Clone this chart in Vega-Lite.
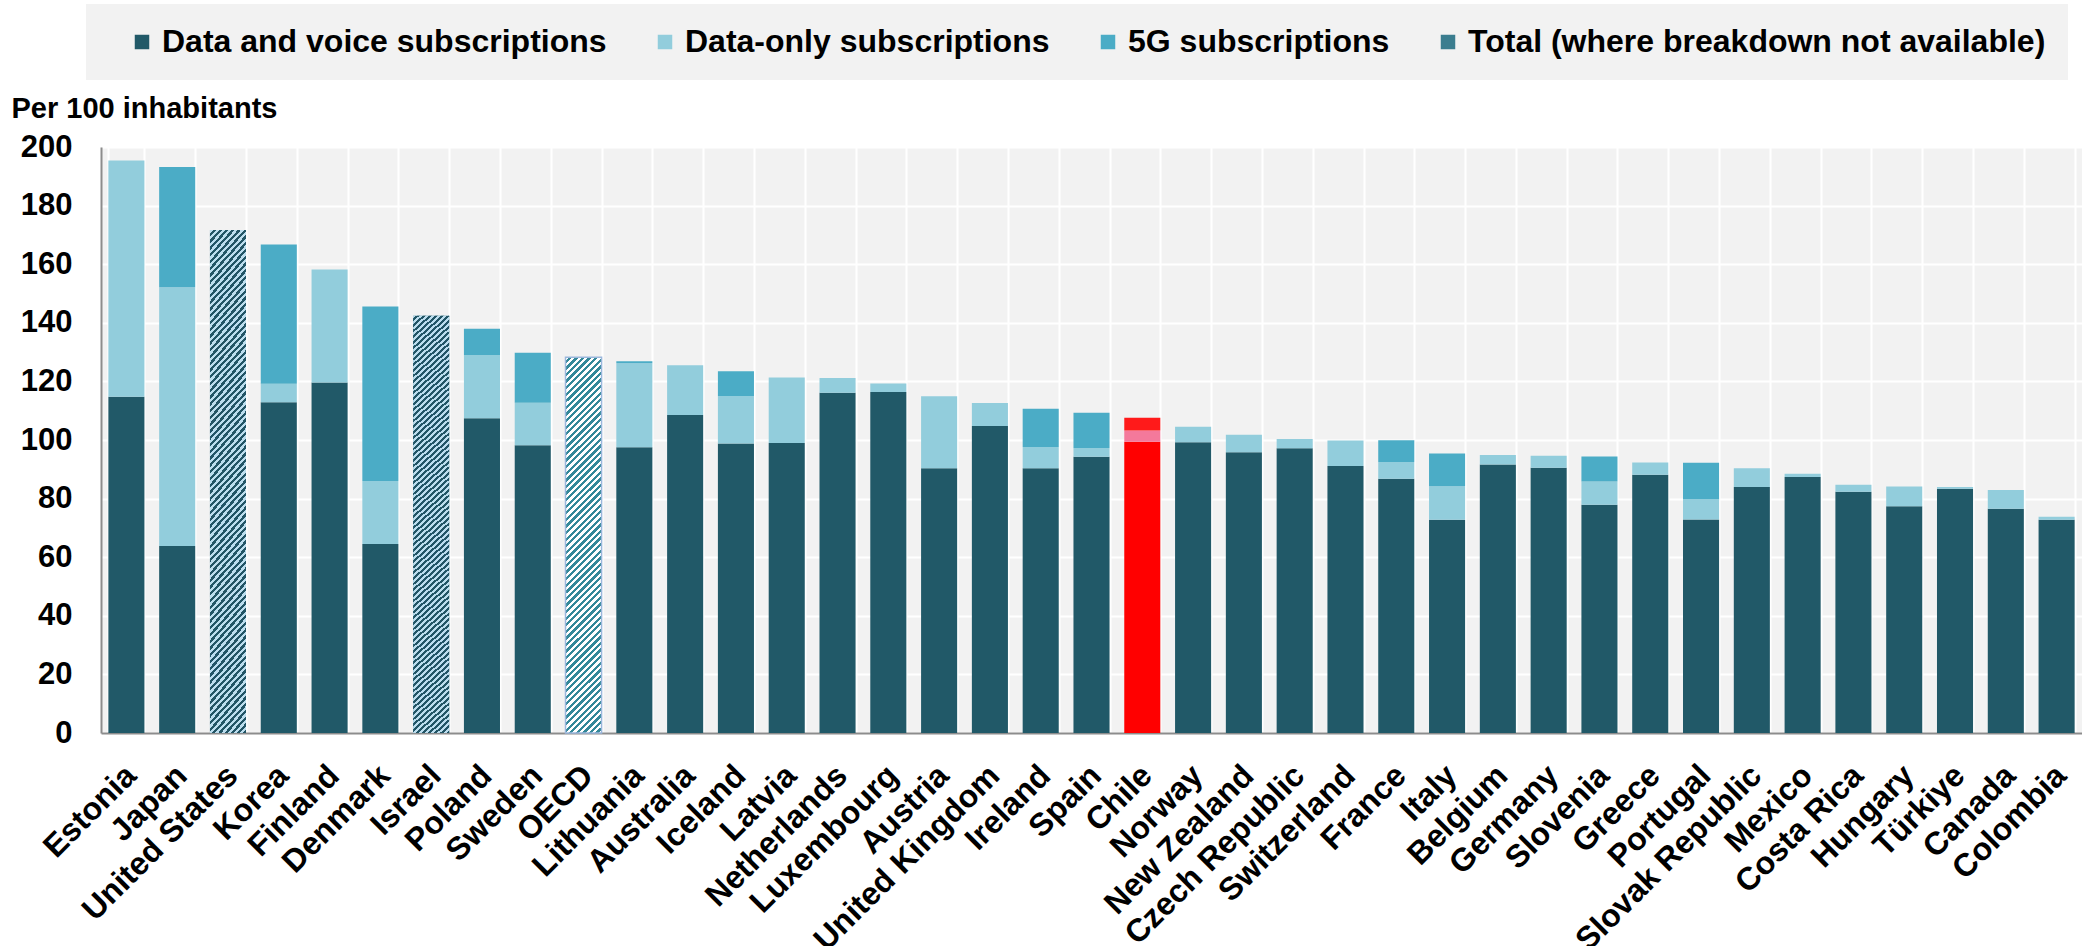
{
"$schema": "https://vega.github.io/schema/vega-lite/v6.json",
"width": 1981,
"height": 586,
"autosize": {"type": "none"},
"padding": {"left": 101, "top": 147, "right": 0, "bottom": 213},
"background": "#ffffff",
"config": {
  "view": {"fill": "#f2f2f2", "stroke": null},
  "font": "Liberation Sans"
},
"data": {"values": [
{"country":"Estonia","series":"Data and voice subscriptions","value":114.8},
{"country":"Estonia","series":"Data-only subscriptions","value":80.6},
{"country":"Japan","series":"Data and voice subscriptions","value":63.8},
{"country":"Japan","series":"Data-only subscriptions","value":88.3},
{"country":"Japan","series":"5G subscriptions","value":41.1},
{"country":"United States","series":"Total (where breakdown not available)","value":171.7},
{"country":"Korea","series":"Data and voice subscriptions","value":112.9},
{"country":"Korea","series":"Data-only subscriptions","value":6.3},
{"country":"Korea","series":"5G subscriptions","value":47.5},
{"country":"Finland","series":"Data and voice subscriptions","value":119.6},
{"country":"Finland","series":"Data-only subscriptions","value":38.6},
{"country":"Denmark","series":"Data and voice subscriptions","value":64.5},
{"country":"Denmark","series":"Data-only subscriptions","value":21.5},
{"country":"Denmark","series":"5G subscriptions","value":59.6},
{"country":"Israel","series":"Total (where breakdown not available)","value":142.4},
{"country":"Poland","series":"Data and voice subscriptions","value":107.4},
{"country":"Poland","series":"Data-only subscriptions","value":21.6},
{"country":"Poland","series":"5G subscriptions","value":9.0},
{"country":"Sweden","series":"Data and voice subscriptions","value":98.2},
{"country":"Sweden","series":"Data-only subscriptions","value":14.5},
{"country":"Sweden","series":"5G subscriptions","value":17.1},
{"country":"OECD","series":"Total (where breakdown not available)","value":128.2},
{"country":"Lithuania","series":"Data and voice subscriptions","value":97.5},
{"country":"Lithuania","series":"Data-only subscriptions","value":28.7},
{"country":"Lithuania","series":"5G subscriptions","value":0.7},
{"country":"Australia","series":"Data and voice subscriptions","value":108.5},
{"country":"Australia","series":"Data-only subscriptions","value":17.0},
{"country":"Iceland","series":"Data and voice subscriptions","value":98.8},
{"country":"Iceland","series":"Data-only subscriptions","value":16.2},
{"country":"Iceland","series":"5G subscriptions","value":8.5},
{"country":"Latvia","series":"Data and voice subscriptions","value":99.0},
{"country":"Latvia","series":"Data-only subscriptions","value":22.3},
{"country":"Netherlands","series":"Data and voice subscriptions","value":116.1},
{"country":"Netherlands","series":"Data-only subscriptions","value":5.1},
{"country":"Luxembourg","series":"Data and voice subscriptions","value":116.4},
{"country":"Luxembourg","series":"Data-only subscriptions","value":2.9},
{"country":"Austria","series":"Data and voice subscriptions","value":90.4},
{"country":"Austria","series":"Data-only subscriptions","value":24.5},
{"country":"United Kingdom","series":"Data and voice subscriptions","value":104.8},
{"country":"United Kingdom","series":"Data-only subscriptions","value":7.8},
{"country":"Ireland","series":"Data and voice subscriptions","value":90.4},
{"country":"Ireland","series":"Data-only subscriptions","value":7.2},
{"country":"Ireland","series":"5G subscriptions","value":13.1},
{"country":"Spain","series":"Data and voice subscriptions","value":94.3},
{"country":"Spain","series":"Data-only subscriptions","value":3.0},
{"country":"Spain","series":"5G subscriptions","value":12.0},
{"country":"Chile","series":"Data and voice subscriptions","value":99.4},
{"country":"Chile","series":"Data-only subscriptions","value":3.8},
{"country":"Chile","series":"5G subscriptions","value":4.4},
{"country":"Norway","series":"Data and voice subscriptions","value":99.2},
{"country":"Norway","series":"Data-only subscriptions","value":5.3},
{"country":"New Zealand","series":"Data and voice subscriptions","value":95.8},
{"country":"New Zealand","series":"Data-only subscriptions","value":6.0},
{"country":"Czech Republic","series":"Data and voice subscriptions","value":97.2},
{"country":"Czech Republic","series":"Data-only subscriptions","value":3.1},
{"country":"Switzerland","series":"Data and voice subscriptions","value":91.1},
{"country":"Switzerland","series":"Data-only subscriptions","value":8.7},
{"country":"France","series":"Data and voice subscriptions","value":86.8},
{"country":"France","series":"Data-only subscriptions","value":5.7},
{"country":"France","series":"5G subscriptions","value":7.4},
{"country":"Italy","series":"Data and voice subscriptions","value":72.8},
{"country":"Italy","series":"Data-only subscriptions","value":11.4},
{"country":"Italy","series":"5G subscriptions","value":11.2},
{"country":"Belgium","series":"Data and voice subscriptions","value":91.6},
{"country":"Belgium","series":"Data-only subscriptions","value":3.3},
{"country":"Germany","series":"Data and voice subscriptions","value":90.5},
{"country":"Germany","series":"Data-only subscriptions","value":4.1},
{"country":"Slovenia","series":"Data and voice subscriptions","value":77.9},
{"country":"Slovenia","series":"Data-only subscriptions","value":7.9},
{"country":"Slovenia","series":"5G subscriptions","value":8.6},
{"country":"Greece","series":"Data and voice subscriptions","value":88.1},
{"country":"Greece","series":"Data-only subscriptions","value":4.2},
{"country":"Portugal","series":"Data and voice subscriptions","value":72.9},
{"country":"Portugal","series":"Data-only subscriptions","value":7.0},
{"country":"Portugal","series":"5G subscriptions","value":12.3},
{"country":"Slovak Republic","series":"Data and voice subscriptions","value":84.0},
{"country":"Slovak Republic","series":"Data-only subscriptions","value":6.4},
{"country":"Mexico","series":"Data and voice subscriptions","value":87.4},
{"country":"Mexico","series":"Data-only subscriptions","value":1.1},
{"country":"Costa Rica","series":"Data and voice subscriptions","value":82.3},
{"country":"Costa Rica","series":"Data-only subscriptions","value":2.4},
{"country":"Hungary","series":"Data and voice subscriptions","value":77.4},
{"country":"Hungary","series":"Data-only subscriptions","value":6.7},
{"country":"Türkiye","series":"Data and voice subscriptions","value":83.4},
{"country":"Türkiye","series":"Data-only subscriptions","value":0.6},
{"country":"Canada","series":"Data and voice subscriptions","value":76.5},
{"country":"Canada","series":"Data-only subscriptions","value":6.4},
{"country":"Colombia","series":"Data and voice subscriptions","value":72.8},
{"country":"Colombia","series":"Data-only subscriptions","value":1.0}
]},
"transform": [
  {"calculate": "indexof(['Data and voice subscriptions','Data-only subscriptions','5G subscriptions','Total (where breakdown not available)'], datum.series)", "as": "k"}
],
"encoding": {
  "x": {
    "field": "country", "type": "nominal",
    "scale": {"domain": ["Estonia","Japan","United States","Korea","Finland","Denmark","Israel","Poland","Sweden","OECD","Lithuania","Australia","Iceland","Latvia","Netherlands","Luxembourg","Austria","United Kingdom","Ireland","Spain","Chile","Norway","New Zealand","Czech Republic","Switzerland","France","Italy","Belgium","Germany","Slovenia","Greece","Portugal","Slovak Republic","Mexico","Costa Rica","Hungary","Türkiye","Canada","Colombia"], "paddingInner": 0.29, "paddingOuter": 0.145},
    "axis": {"title": null, "grid": true, "tickBand": "extent", "gridColor": "#ffffff", "gridWidth": 2, "ticks": false, "tickSize": 0, "domainColor": "#8c8c8c", "domainWidth": 2, "labelAngle": -45, "labelAlign": "right", "labelBaseline": "middle", "labelFont": "Liberation Sans", "labelFontSize": 32, "labelFontWeight": "bold", "labelColor": "#000000", "labelPadding": 37, "labelOffset": 4, "labelLimit": 400, "labelOverlap": false}
  },
  "y": {
    "field": "value", "type": "quantitative",
    "scale": {"domain": [0, 200], "nice": false},
    "axis": {"title": "Per 100 inhabitants", "titleAngle": 0, "titleAlign": "left", "titleBaseline": "alphabetic", "titleX": -90, "titleY": -30, "titleFont": "Liberation Sans", "titleFontSize": 29, "titleFontWeight": "bold", "titleColor": "#000000", "values": [0,20,40,60,80,100,120,140,160,180,200], "grid": true, "gridColor": "#ffffff", "gridWidth": 2, "ticks": false, "tickSize": 0, "domainColor": "#8c8c8c", "domainWidth": 2, "labelFont": "Liberation Sans", "labelFontSize": 31, "labelFontWeight": "bold", "labelColor": "#000000", "labelPadding": 29}
  }
},
"layer": [
  {
    "transform": [{"filter": "datum.country !== 'Chile'"}],
    "mark": {"type": "bar"},
    "encoding": {
      "color": {
        "field": "series", "type": "nominal",
        "scale": {"domain": ["Data and voice subscriptions","Data-only subscriptions","5G subscriptions","Total (where breakdown not available)"], "range": ["#215968","#92cddc","#4bacc6","#3b7d8f"]},
        "legend": {"orient": "none", "legendX": -15, "legendY": -143, "direction": "horizontal", "columns": 4, "title": "\u00a0", "titleOrient": "left", "titleFontSize": 10, "titlePadding": 18, "fillColor": "#f2f2f2", "padding": 22, "columnPadding": 42, "labelFont": "Liberation Sans", "labelFontSize": 32, "labelFontWeight": "bold", "labelColor": "#000000", "labelLimit": 1000, "labelOffset": 4, "symbolType": "square", "symbolSize": 210, "symbolStrokeWidth": 0, "symbolOpacity": 1}
      },
      "order": {"field": "k", "type": "quantitative"}
    }
  },
  {
    "transform": [{"filter": "datum.country === 'Chile'"}],
    "mark": {"type": "bar"},
    "encoding": {
      "color": {
        "field": "series", "type": "nominal",
        "scale": {"domain": ["Data and voice subscriptions","Data-only subscriptions","5G subscriptions"], "range": ["#ff0000","#f4799b","#ff1a1a"]},
        "legend": null
      },
      "order": {"field": "k", "type": "quantitative"}
    }
  },
  {
    "transform": [{"filter": "datum.country === 'United States' || datum.country === 'Israel'"}],
    "mark": {"type": "bar", "color": {"gradient": "linear", "x1": 0, "y1": 0, "x2": 0.0839, "y2": 1.0717, "stops": [
{"offset":0,"color":"#bde"},
{"offset":0.00625,"color":"#bde"},{"offset":0.00625,"color":"#256"},{"offset":0.0125,"color":"#256"},{"offset":0.0125,"color":"#bde"},
{"offset":0.01875,"color":"#bde"},{"offset":0.01875,"color":"#256"},{"offset":0.025,"color":"#256"},{"offset":0.025,"color":"#bde"},
{"offset":0.03125,"color":"#bde"},{"offset":0.03125,"color":"#256"},{"offset":0.0375,"color":"#256"},{"offset":0.0375,"color":"#bde"},
{"offset":0.04375,"color":"#bde"},{"offset":0.04375,"color":"#256"},{"offset":0.05,"color":"#256"},{"offset":0.05,"color":"#bde"},
{"offset":0.05625,"color":"#bde"},{"offset":0.05625,"color":"#256"},{"offset":0.0625,"color":"#256"},{"offset":0.0625,"color":"#bde"},
{"offset":0.06875,"color":"#bde"},{"offset":0.06875,"color":"#256"},{"offset":0.075,"color":"#256"},{"offset":0.075,"color":"#bde"},
{"offset":0.08125,"color":"#bde"},{"offset":0.08125,"color":"#256"},{"offset":0.0875,"color":"#256"},{"offset":0.0875,"color":"#bde"},
{"offset":0.09375,"color":"#bde"},{"offset":0.09375,"color":"#256"},{"offset":0.1,"color":"#256"},{"offset":0.1,"color":"#bde"},
{"offset":0.10625,"color":"#bde"},{"offset":0.10625,"color":"#256"},{"offset":0.1125,"color":"#256"},{"offset":0.1125,"color":"#bde"},
{"offset":0.11875,"color":"#bde"},{"offset":0.11875,"color":"#256"},{"offset":0.125,"color":"#256"},{"offset":0.125,"color":"#bde"},
{"offset":0.13125,"color":"#bde"},{"offset":0.13125,"color":"#256"},{"offset":0.1375,"color":"#256"},{"offset":0.1375,"color":"#bde"},
{"offset":0.14375,"color":"#bde"},{"offset":0.14375,"color":"#256"},{"offset":0.15,"color":"#256"},{"offset":0.15,"color":"#bde"},
{"offset":0.15625,"color":"#bde"},{"offset":0.15625,"color":"#256"},{"offset":0.1625,"color":"#256"},{"offset":0.1625,"color":"#bde"},
{"offset":0.16875,"color":"#bde"},{"offset":0.16875,"color":"#256"},{"offset":0.175,"color":"#256"},{"offset":0.175,"color":"#bde"},
{"offset":0.18125,"color":"#bde"},{"offset":0.18125,"color":"#256"},{"offset":0.1875,"color":"#256"},{"offset":0.1875,"color":"#bde"},
{"offset":0.19375,"color":"#bde"},{"offset":0.19375,"color":"#256"},{"offset":0.2,"color":"#256"},{"offset":0.2,"color":"#bde"},
{"offset":0.20625,"color":"#bde"},{"offset":0.20625,"color":"#256"},{"offset":0.2125,"color":"#256"},{"offset":0.2125,"color":"#bde"},
{"offset":0.21875,"color":"#bde"},{"offset":0.21875,"color":"#256"},{"offset":0.225,"color":"#256"},{"offset":0.225,"color":"#bde"},
{"offset":0.23125,"color":"#bde"},{"offset":0.23125,"color":"#256"},{"offset":0.2375,"color":"#256"},{"offset":0.2375,"color":"#bde"},
{"offset":0.24375,"color":"#bde"},{"offset":0.24375,"color":"#256"},{"offset":0.25,"color":"#256"},{"offset":0.25,"color":"#bde"},
{"offset":0.25625,"color":"#bde"},{"offset":0.25625,"color":"#256"},{"offset":0.2625,"color":"#256"},{"offset":0.2625,"color":"#bde"},
{"offset":0.26875,"color":"#bde"},{"offset":0.26875,"color":"#256"},{"offset":0.275,"color":"#256"},{"offset":0.275,"color":"#bde"},
{"offset":0.28125,"color":"#bde"},{"offset":0.28125,"color":"#256"},{"offset":0.2875,"color":"#256"},{"offset":0.2875,"color":"#bde"},
{"offset":0.29375,"color":"#bde"},{"offset":0.29375,"color":"#256"},{"offset":0.3,"color":"#256"},{"offset":0.3,"color":"#bde"},
{"offset":0.30625,"color":"#bde"},{"offset":0.30625,"color":"#256"},{"offset":0.3125,"color":"#256"},{"offset":0.3125,"color":"#bde"},
{"offset":0.31875,"color":"#bde"},{"offset":0.31875,"color":"#256"},{"offset":0.325,"color":"#256"},{"offset":0.325,"color":"#bde"},
{"offset":0.33125,"color":"#bde"},{"offset":0.33125,"color":"#256"},{"offset":0.3375,"color":"#256"},{"offset":0.3375,"color":"#bde"},
{"offset":0.34375,"color":"#bde"},{"offset":0.34375,"color":"#256"},{"offset":0.35,"color":"#256"},{"offset":0.35,"color":"#bde"},
{"offset":0.35625,"color":"#bde"},{"offset":0.35625,"color":"#256"},{"offset":0.3625,"color":"#256"},{"offset":0.3625,"color":"#bde"},
{"offset":0.36875,"color":"#bde"},{"offset":0.36875,"color":"#256"},{"offset":0.375,"color":"#256"},{"offset":0.375,"color":"#bde"},
{"offset":0.38125,"color":"#bde"},{"offset":0.38125,"color":"#256"},{"offset":0.3875,"color":"#256"},{"offset":0.3875,"color":"#bde"},
{"offset":0.39375,"color":"#bde"},{"offset":0.39375,"color":"#256"},{"offset":0.4,"color":"#256"},{"offset":0.4,"color":"#bde"},
{"offset":0.40625,"color":"#bde"},{"offset":0.40625,"color":"#256"},{"offset":0.4125,"color":"#256"},{"offset":0.4125,"color":"#bde"},
{"offset":0.41875,"color":"#bde"},{"offset":0.41875,"color":"#256"},{"offset":0.425,"color":"#256"},{"offset":0.425,"color":"#bde"},
{"offset":0.43125,"color":"#bde"},{"offset":0.43125,"color":"#256"},{"offset":0.4375,"color":"#256"},{"offset":0.4375,"color":"#bde"},
{"offset":0.44375,"color":"#bde"},{"offset":0.44375,"color":"#256"},{"offset":0.45,"color":"#256"},{"offset":0.45,"color":"#bde"},
{"offset":0.45625,"color":"#bde"},{"offset":0.45625,"color":"#256"},{"offset":0.4625,"color":"#256"},{"offset":0.4625,"color":"#bde"},
{"offset":0.46875,"color":"#bde"},{"offset":0.46875,"color":"#256"},{"offset":0.475,"color":"#256"},{"offset":0.475,"color":"#bde"},
{"offset":0.48125,"color":"#bde"},{"offset":0.48125,"color":"#256"},{"offset":0.4875,"color":"#256"},{"offset":0.4875,"color":"#bde"},
{"offset":0.49375,"color":"#bde"},{"offset":0.49375,"color":"#256"},{"offset":0.5,"color":"#256"},{"offset":0.5,"color":"#bde"},
{"offset":0.50625,"color":"#bde"},{"offset":0.50625,"color":"#256"},{"offset":0.5125,"color":"#256"},{"offset":0.5125,"color":"#bde"},
{"offset":0.51875,"color":"#bde"},{"offset":0.51875,"color":"#256"},{"offset":0.525,"color":"#256"},{"offset":0.525,"color":"#bde"},
{"offset":0.53125,"color":"#bde"},{"offset":0.53125,"color":"#256"},{"offset":0.5375,"color":"#256"},{"offset":0.5375,"color":"#bde"},
{"offset":0.54375,"color":"#bde"},{"offset":0.54375,"color":"#256"},{"offset":0.55,"color":"#256"},{"offset":0.55,"color":"#bde"},
{"offset":0.55625,"color":"#bde"},{"offset":0.55625,"color":"#256"},{"offset":0.5625,"color":"#256"},{"offset":0.5625,"color":"#bde"},
{"offset":0.56875,"color":"#bde"},{"offset":0.56875,"color":"#256"},{"offset":0.575,"color":"#256"},{"offset":0.575,"color":"#bde"},
{"offset":0.58125,"color":"#bde"},{"offset":0.58125,"color":"#256"},{"offset":0.5875,"color":"#256"},{"offset":0.5875,"color":"#bde"},
{"offset":0.59375,"color":"#bde"},{"offset":0.59375,"color":"#256"},{"offset":0.6,"color":"#256"},{"offset":0.6,"color":"#bde"},
{"offset":0.60625,"color":"#bde"},{"offset":0.60625,"color":"#256"},{"offset":0.6125,"color":"#256"},{"offset":0.6125,"color":"#bde"},
{"offset":0.61875,"color":"#bde"},{"offset":0.61875,"color":"#256"},{"offset":0.625,"color":"#256"},{"offset":0.625,"color":"#bde"},
{"offset":0.63125,"color":"#bde"},{"offset":0.63125,"color":"#256"},{"offset":0.6375,"color":"#256"},{"offset":0.6375,"color":"#bde"},
{"offset":0.64375,"color":"#bde"},{"offset":0.64375,"color":"#256"},{"offset":0.65,"color":"#256"},{"offset":0.65,"color":"#bde"},
{"offset":0.65625,"color":"#bde"},{"offset":0.65625,"color":"#256"},{"offset":0.6625,"color":"#256"},{"offset":0.6625,"color":"#bde"},
{"offset":0.66875,"color":"#bde"},{"offset":0.66875,"color":"#256"},{"offset":0.675,"color":"#256"},{"offset":0.675,"color":"#bde"},
{"offset":0.68125,"color":"#bde"},{"offset":0.68125,"color":"#256"},{"offset":0.6875,"color":"#256"},{"offset":0.6875,"color":"#bde"},
{"offset":0.69375,"color":"#bde"},{"offset":0.69375,"color":"#256"},{"offset":0.7,"color":"#256"},{"offset":0.7,"color":"#bde"},
{"offset":0.70625,"color":"#bde"},{"offset":0.70625,"color":"#256"},{"offset":0.7125,"color":"#256"},{"offset":0.7125,"color":"#bde"},
{"offset":0.71875,"color":"#bde"},{"offset":0.71875,"color":"#256"},{"offset":0.725,"color":"#256"},{"offset":0.725,"color":"#bde"},
{"offset":0.73125,"color":"#bde"},{"offset":0.73125,"color":"#256"},{"offset":0.7375,"color":"#256"},{"offset":0.7375,"color":"#bde"},
{"offset":0.74375,"color":"#bde"},{"offset":0.74375,"color":"#256"},{"offset":0.75,"color":"#256"},{"offset":0.75,"color":"#bde"},
{"offset":0.75625,"color":"#bde"},{"offset":0.75625,"color":"#256"},{"offset":0.7625,"color":"#256"},{"offset":0.7625,"color":"#bde"},
{"offset":0.76875,"color":"#bde"},{"offset":0.76875,"color":"#256"},{"offset":0.775,"color":"#256"},{"offset":0.775,"color":"#bde"},
{"offset":0.78125,"color":"#bde"},{"offset":0.78125,"color":"#256"},{"offset":0.7875,"color":"#256"},{"offset":0.7875,"color":"#bde"},
{"offset":0.79375,"color":"#bde"},{"offset":0.79375,"color":"#256"},{"offset":0.8,"color":"#256"},{"offset":0.8,"color":"#bde"},
{"offset":0.80625,"color":"#bde"},{"offset":0.80625,"color":"#256"},{"offset":0.8125,"color":"#256"},{"offset":0.8125,"color":"#bde"},
{"offset":0.81875,"color":"#bde"},{"offset":0.81875,"color":"#256"},{"offset":0.825,"color":"#256"},{"offset":0.825,"color":"#bde"},
{"offset":0.83125,"color":"#bde"},{"offset":0.83125,"color":"#256"},{"offset":0.8375,"color":"#256"},{"offset":0.8375,"color":"#bde"},
{"offset":0.84375,"color":"#bde"},{"offset":0.84375,"color":"#256"},{"offset":0.85,"color":"#256"},{"offset":0.85,"color":"#bde"},
{"offset":0.85625,"color":"#bde"},{"offset":0.85625,"color":"#256"},{"offset":0.8625,"color":"#256"},{"offset":0.8625,"color":"#bde"},
{"offset":0.86875,"color":"#bde"},{"offset":0.86875,"color":"#256"},{"offset":0.875,"color":"#256"},{"offset":0.875,"color":"#bde"},
{"offset":0.88125,"color":"#bde"},{"offset":0.88125,"color":"#256"},{"offset":0.8875,"color":"#256"},{"offset":0.8875,"color":"#bde"},
{"offset":0.89375,"color":"#bde"},{"offset":0.89375,"color":"#256"},{"offset":0.9,"color":"#256"},{"offset":0.9,"color":"#bde"},
{"offset":0.90625,"color":"#bde"},{"offset":0.90625,"color":"#256"},{"offset":0.9125,"color":"#256"},{"offset":0.9125,"color":"#bde"},
{"offset":0.91875,"color":"#bde"},{"offset":0.91875,"color":"#256"},{"offset":0.925,"color":"#256"},{"offset":0.925,"color":"#bde"},
{"offset":0.93125,"color":"#bde"},{"offset":0.93125,"color":"#256"},{"offset":0.9375,"color":"#256"},{"offset":0.9375,"color":"#bde"},
{"offset":0.94375,"color":"#bde"},{"offset":0.94375,"color":"#256"},{"offset":0.95,"color":"#256"},{"offset":0.95,"color":"#bde"},
{"offset":0.95625,"color":"#bde"},{"offset":0.95625,"color":"#256"},{"offset":0.9625,"color":"#256"},{"offset":0.9625,"color":"#bde"},
{"offset":0.96875,"color":"#bde"},{"offset":0.96875,"color":"#256"},{"offset":0.975,"color":"#256"},{"offset":0.975,"color":"#bde"},
{"offset":0.98125,"color":"#bde"},{"offset":0.98125,"color":"#256"},{"offset":0.9875,"color":"#256"},{"offset":0.9875,"color":"#bde"},
{"offset":0.99375,"color":"#bde"},{"offset":0.99375,"color":"#256"},{"offset":1,"color":"#256"}
]}}
  },
  {
    "transform": [{"filter": "datum.country === 'OECD'"}],
    "mark": {"type": "bar", "stroke": "#9bb7dc", "strokeWidth": 1.5, "color": {"gradient": "linear", "x1": 0, "y1": 0, "x2": 0.1041, "y2": 1.0859, "stops": [
{"offset":0,"color":"#fff"},
{"offset":0.008,"color":"#fff"},{"offset":0.008,"color":"#389"},{"offset":0.016,"color":"#389"},{"offset":0.016,"color":"#fff"},
{"offset":0.024,"color":"#fff"},{"offset":0.024,"color":"#389"},{"offset":0.032,"color":"#389"},{"offset":0.032,"color":"#fff"},
{"offset":0.04,"color":"#fff"},{"offset":0.04,"color":"#389"},{"offset":0.048,"color":"#389"},{"offset":0.048,"color":"#fff"},
{"offset":0.056,"color":"#fff"},{"offset":0.056,"color":"#389"},{"offset":0.064,"color":"#389"},{"offset":0.064,"color":"#fff"},
{"offset":0.072,"color":"#fff"},{"offset":0.072,"color":"#389"},{"offset":0.08,"color":"#389"},{"offset":0.08,"color":"#fff"},
{"offset":0.088,"color":"#fff"},{"offset":0.088,"color":"#389"},{"offset":0.096,"color":"#389"},{"offset":0.096,"color":"#fff"},
{"offset":0.104,"color":"#fff"},{"offset":0.104,"color":"#389"},{"offset":0.112,"color":"#389"},{"offset":0.112,"color":"#fff"},
{"offset":0.12,"color":"#fff"},{"offset":0.12,"color":"#389"},{"offset":0.128,"color":"#389"},{"offset":0.128,"color":"#fff"},
{"offset":0.136,"color":"#fff"},{"offset":0.136,"color":"#389"},{"offset":0.144,"color":"#389"},{"offset":0.144,"color":"#fff"},
{"offset":0.152,"color":"#fff"},{"offset":0.152,"color":"#389"},{"offset":0.16,"color":"#389"},{"offset":0.16,"color":"#fff"},
{"offset":0.168,"color":"#fff"},{"offset":0.168,"color":"#389"},{"offset":0.176,"color":"#389"},{"offset":0.176,"color":"#fff"},
{"offset":0.184,"color":"#fff"},{"offset":0.184,"color":"#389"},{"offset":0.192,"color":"#389"},{"offset":0.192,"color":"#fff"},
{"offset":0.2,"color":"#fff"},{"offset":0.2,"color":"#389"},{"offset":0.208,"color":"#389"},{"offset":0.208,"color":"#fff"},
{"offset":0.216,"color":"#fff"},{"offset":0.216,"color":"#389"},{"offset":0.224,"color":"#389"},{"offset":0.224,"color":"#fff"},
{"offset":0.232,"color":"#fff"},{"offset":0.232,"color":"#389"},{"offset":0.24,"color":"#389"},{"offset":0.24,"color":"#fff"},
{"offset":0.248,"color":"#fff"},{"offset":0.248,"color":"#389"},{"offset":0.256,"color":"#389"},{"offset":0.256,"color":"#fff"},
{"offset":0.264,"color":"#fff"},{"offset":0.264,"color":"#389"},{"offset":0.272,"color":"#389"},{"offset":0.272,"color":"#fff"},
{"offset":0.28,"color":"#fff"},{"offset":0.28,"color":"#389"},{"offset":0.288,"color":"#389"},{"offset":0.288,"color":"#fff"},
{"offset":0.296,"color":"#fff"},{"offset":0.296,"color":"#389"},{"offset":0.304,"color":"#389"},{"offset":0.304,"color":"#fff"},
{"offset":0.312,"color":"#fff"},{"offset":0.312,"color":"#389"},{"offset":0.32,"color":"#389"},{"offset":0.32,"color":"#fff"},
{"offset":0.328,"color":"#fff"},{"offset":0.328,"color":"#389"},{"offset":0.336,"color":"#389"},{"offset":0.336,"color":"#fff"},
{"offset":0.344,"color":"#fff"},{"offset":0.344,"color":"#389"},{"offset":0.352,"color":"#389"},{"offset":0.352,"color":"#fff"},
{"offset":0.36,"color":"#fff"},{"offset":0.36,"color":"#389"},{"offset":0.368,"color":"#389"},{"offset":0.368,"color":"#fff"},
{"offset":0.376,"color":"#fff"},{"offset":0.376,"color":"#389"},{"offset":0.384,"color":"#389"},{"offset":0.384,"color":"#fff"},
{"offset":0.392,"color":"#fff"},{"offset":0.392,"color":"#389"},{"offset":0.4,"color":"#389"},{"offset":0.4,"color":"#fff"},
{"offset":0.408,"color":"#fff"},{"offset":0.408,"color":"#389"},{"offset":0.416,"color":"#389"},{"offset":0.416,"color":"#fff"},
{"offset":0.424,"color":"#fff"},{"offset":0.424,"color":"#389"},{"offset":0.432,"color":"#389"},{"offset":0.432,"color":"#fff"},
{"offset":0.44,"color":"#fff"},{"offset":0.44,"color":"#389"},{"offset":0.448,"color":"#389"},{"offset":0.448,"color":"#fff"},
{"offset":0.456,"color":"#fff"},{"offset":0.456,"color":"#389"},{"offset":0.464,"color":"#389"},{"offset":0.464,"color":"#fff"},
{"offset":0.472,"color":"#fff"},{"offset":0.472,"color":"#389"},{"offset":0.48,"color":"#389"},{"offset":0.48,"color":"#fff"},
{"offset":0.488,"color":"#fff"},{"offset":0.488,"color":"#389"},{"offset":0.496,"color":"#389"},{"offset":0.496,"color":"#fff"},
{"offset":0.504,"color":"#fff"},{"offset":0.504,"color":"#389"},{"offset":0.512,"color":"#389"},{"offset":0.512,"color":"#fff"},
{"offset":0.52,"color":"#fff"},{"offset":0.52,"color":"#389"},{"offset":0.528,"color":"#389"},{"offset":0.528,"color":"#fff"},
{"offset":0.536,"color":"#fff"},{"offset":0.536,"color":"#389"},{"offset":0.544,"color":"#389"},{"offset":0.544,"color":"#fff"},
{"offset":0.552,"color":"#fff"},{"offset":0.552,"color":"#389"},{"offset":0.56,"color":"#389"},{"offset":0.56,"color":"#fff"},
{"offset":0.568,"color":"#fff"},{"offset":0.568,"color":"#389"},{"offset":0.576,"color":"#389"},{"offset":0.576,"color":"#fff"},
{"offset":0.584,"color":"#fff"},{"offset":0.584,"color":"#389"},{"offset":0.592,"color":"#389"},{"offset":0.592,"color":"#fff"},
{"offset":0.6,"color":"#fff"},{"offset":0.6,"color":"#389"},{"offset":0.608,"color":"#389"},{"offset":0.608,"color":"#fff"},
{"offset":0.616,"color":"#fff"},{"offset":0.616,"color":"#389"},{"offset":0.624,"color":"#389"},{"offset":0.624,"color":"#fff"},
{"offset":0.632,"color":"#fff"},{"offset":0.632,"color":"#389"},{"offset":0.64,"color":"#389"},{"offset":0.64,"color":"#fff"},
{"offset":0.648,"color":"#fff"},{"offset":0.648,"color":"#389"},{"offset":0.656,"color":"#389"},{"offset":0.656,"color":"#fff"},
{"offset":0.664,"color":"#fff"},{"offset":0.664,"color":"#389"},{"offset":0.672,"color":"#389"},{"offset":0.672,"color":"#fff"},
{"offset":0.68,"color":"#fff"},{"offset":0.68,"color":"#389"},{"offset":0.688,"color":"#389"},{"offset":0.688,"color":"#fff"},
{"offset":0.696,"color":"#fff"},{"offset":0.696,"color":"#389"},{"offset":0.704,"color":"#389"},{"offset":0.704,"color":"#fff"},
{"offset":0.712,"color":"#fff"},{"offset":0.712,"color":"#389"},{"offset":0.72,"color":"#389"},{"offset":0.72,"color":"#fff"},
{"offset":0.728,"color":"#fff"},{"offset":0.728,"color":"#389"},{"offset":0.736,"color":"#389"},{"offset":0.736,"color":"#fff"},
{"offset":0.744,"color":"#fff"},{"offset":0.744,"color":"#389"},{"offset":0.752,"color":"#389"},{"offset":0.752,"color":"#fff"},
{"offset":0.76,"color":"#fff"},{"offset":0.76,"color":"#389"},{"offset":0.768,"color":"#389"},{"offset":0.768,"color":"#fff"},
{"offset":0.776,"color":"#fff"},{"offset":0.776,"color":"#389"},{"offset":0.784,"color":"#389"},{"offset":0.784,"color":"#fff"},
{"offset":0.792,"color":"#fff"},{"offset":0.792,"color":"#389"},{"offset":0.8,"color":"#389"},{"offset":0.8,"color":"#fff"},
{"offset":0.808,"color":"#fff"},{"offset":0.808,"color":"#389"},{"offset":0.816,"color":"#389"},{"offset":0.816,"color":"#fff"},
{"offset":0.824,"color":"#fff"},{"offset":0.824,"color":"#389"},{"offset":0.832,"color":"#389"},{"offset":0.832,"color":"#fff"},
{"offset":0.84,"color":"#fff"},{"offset":0.84,"color":"#389"},{"offset":0.848,"color":"#389"},{"offset":0.848,"color":"#fff"},
{"offset":0.856,"color":"#fff"},{"offset":0.856,"color":"#389"},{"offset":0.864,"color":"#389"},{"offset":0.864,"color":"#fff"},
{"offset":0.872,"color":"#fff"},{"offset":0.872,"color":"#389"},{"offset":0.88,"color":"#389"},{"offset":0.88,"color":"#fff"},
{"offset":0.888,"color":"#fff"},{"offset":0.888,"color":"#389"},{"offset":0.896,"color":"#389"},{"offset":0.896,"color":"#fff"},
{"offset":0.904,"color":"#fff"},{"offset":0.904,"color":"#389"},{"offset":0.912,"color":"#389"},{"offset":0.912,"color":"#fff"},
{"offset":0.92,"color":"#fff"},{"offset":0.92,"color":"#389"},{"offset":0.928,"color":"#389"},{"offset":0.928,"color":"#fff"},
{"offset":0.936,"color":"#fff"},{"offset":0.936,"color":"#389"},{"offset":0.944,"color":"#389"},{"offset":0.944,"color":"#fff"},
{"offset":0.952,"color":"#fff"},{"offset":0.952,"color":"#389"},{"offset":0.96,"color":"#389"},{"offset":0.96,"color":"#fff"},
{"offset":0.968,"color":"#fff"},{"offset":0.968,"color":"#389"},{"offset":0.976,"color":"#389"},{"offset":0.976,"color":"#fff"},
{"offset":0.984,"color":"#fff"},{"offset":0.984,"color":"#389"},{"offset":0.992,"color":"#389"},{"offset":0.992,"color":"#fff"},
{"offset":1,"color":"#fff"}
]}}
  }
],
"resolve": {"scale": {"color": "independent"}}
}
